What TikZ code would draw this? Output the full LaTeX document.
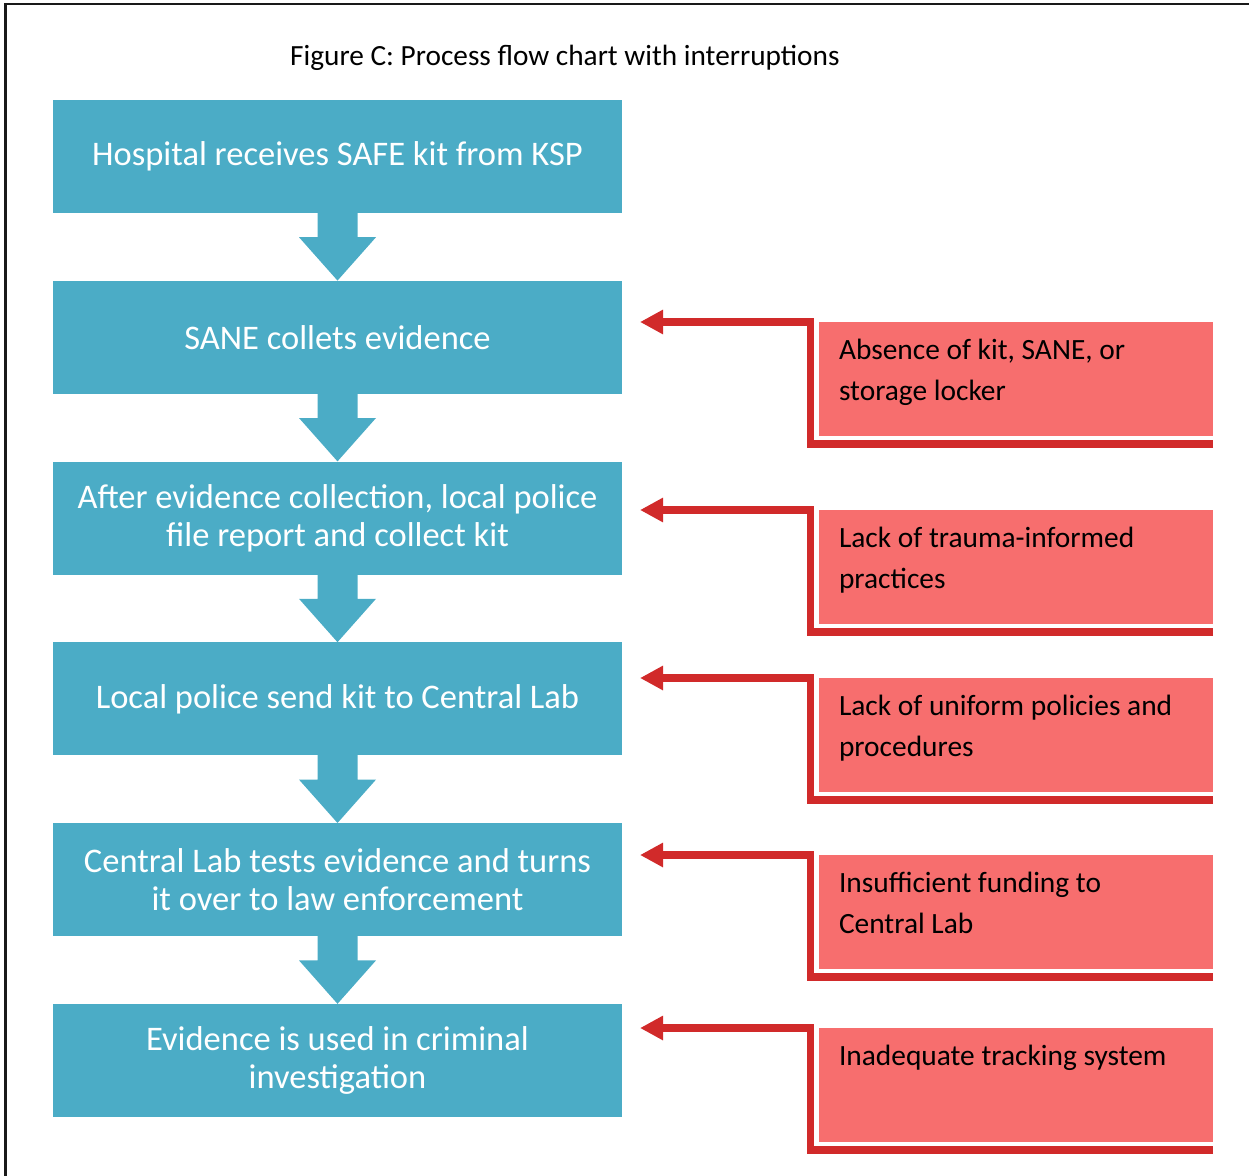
\documentclass[tikz,border=0pt]{standalone}
\usepackage{fontspec}
\setmainfont{Carlito}
\usetikzlibrary{arrows.meta,calc}
\definecolor{boxblue}{HTML}{4BACC6}
\definecolor{boxred}{HTML}{F76E6E}
\definecolor{linered}{HTML}{D12A2A}
\tikzset{
  bluebox/.style={fill=boxblue, minimum width=569pt, minimum height=113pt, inner sep=0pt,
    text=white, align=center, font=\fontsize{34.5}{38}\selectfont},
  redbox/.style={fill=boxred, minimum width=394pt, minimum height=114pt, inner sep=0pt},
  redtext/.style={anchor=base west, inner sep=0pt, align=left, text=black,
    font=\fontsize{29.4}{41}\selectfont},
  redline/.style={draw=linered, line width=7.5pt, line join=miter,
    -{Triangle[length=23pt,width=23pt]}},
  downarrow/.style={fill=boxblue},
}
\begin{document}
\begin{tikzpicture}[x=1pt,y=-1pt]
\useasboundingbox (0,0) rectangle (1249,1175);
% frame
\draw[line width=2.5pt, black!90] (5.5,1176) -- (5.5,4) -- (1250,4);
% title
\node[anchor=base west, inner sep=0pt, font=\fontsize{29.3}{34}\selectfont] (title) at (290,65) {Figure C: Process flow chart with interruptions};
% blue boxes
\node[bluebox] (b1) at (337.5,156.5) {Hospital receives SAFE kit from KSP};
\node[bluebox] (b2) at (337.5,337.3) {SANE collets evidence};
\node[bluebox] (b3) at (337.5,518.1) {After evidence collection, local police\\file report and collect kit};
\node[bluebox] (b4) at (337.5,698.9) {Local police send kit to Central Lab};
\node[bluebox] (b5) at (337.5,879.7) {Central Lab tests evidence and turns\\it over to law enforcement};
\node[bluebox] (b6) at (337.5,1060.5) {Evidence is used in criminal\\investigation};
% down arrows
\foreach \a/\b in {b1/b2,b2/b3,b3/b4,b4/b5,b5/b6}{
  \fill[downarrow] ($(\a.south)+(-20,-1)$) -- ($(\a.south)+(-20,24)$) -- ($(\a.south)+(-38.5,24)$)
    -- (\b.north) -- ($(\a.south)+(38.5,24)$) -- ($(\a.south)+(20,24)$) -- ($(\a.south)+(20,-1)$) -- cycle;
}
% red boxes and connectors (\o = baseline of the last text line below the box top)
\foreach \i/\t/\o/\txt in {1/322/79/{Absence of kit, SANE, or\\storage locker},
                        2/510/79/{Lack of trauma-informed\\practices},
                        3/678/79/{Lack of uniform policies and\\procedures},
                        4/855/79/{Insufficient funding to\\Central Lab},
                        5/1028/38/{Inadequate tracking system}}{
  \node[redbox] (r\i) at (1016,\t+57) {};
  \node[redtext] (rt\i) at ($(r\i.north west)+(20,\o)$) {\txt};
  \coordinate (s\i) at ($(r\i.south east)+(0,8)$);
  \coordinate (t\i) at (640,\t);
  \draw[redline] (s\i) -| ($(t\i)+(170.5,0)$) -- (t\i);
}
\end{tikzpicture}
\end{document}
